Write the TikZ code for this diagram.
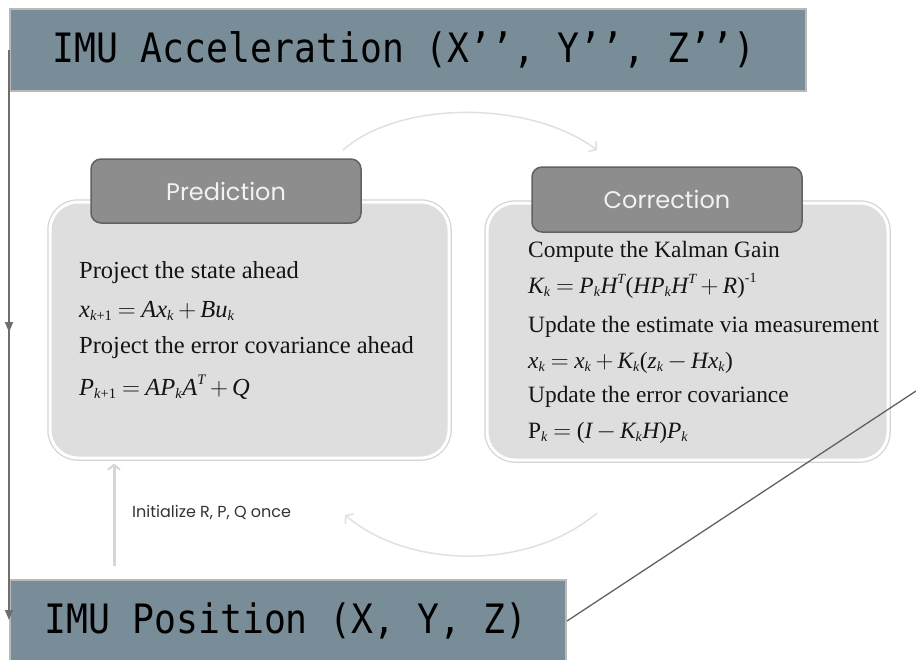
\documentclass[tikz,border=0pt]{standalone}
\usepackage{fontspec}
\usepackage{amsmath}
\setmainfont{Liberation Serif}
\newfontfamily\monofont[FakeStretch=0.9]{DejaVu Sans Mono}
\newfontfamily\gothfont{Poppins}
\usetikzlibrary{arrows.meta,decorations.markings}

% smaller indices in the formulas
\DeclareMathSizes{24.5}{24.5}{14.5}{11}
\DeclareMathSizes{23.4}{23.4}{14}{10.5}

\definecolor{slate}{HTML}{798D98}
\definecolor{slateedge}{HTML}{B9B9B9}
\definecolor{panelfill}{HTML}{DEDEDE}
\definecolor{panelring}{HTML}{D4D4D4}
\definecolor{headfill}{HTML}{8D8D8D}
\definecolor{headedge}{HTML}{616161}
\definecolor{headtext}{HTML}{F2F2F2}
\definecolor{cyclegray}{HTML}{E0E0E0}
\definecolor{initgray}{HTML}{D6D6D6}
\definecolor{flowgray}{HTML}{6E6E6E}
\definecolor{labelgray}{HTML}{333333}

% italic letters and upright symbols taken from the text font inside formulas
\newcommand\mi[1]{\text{\itshape #1}}
\newcommand\tx[1]{\text{#1}}
% tighter spacing around = and binary operators
\newcommand\eqspacing{\thickmuskip=4mu\medmuskip=3mu}

\begin{document}
\begin{tikzpicture}[x=1pt,y=-1pt,
  banner/.style={rectangle, fill=slate, draw=slateedge, line width=2pt,
    inner sep=0pt, font=\monofont\fontsize{40.5}{44}\selectfont},
  panel/.style={rectangle, rounded corners=28pt, fill=panelfill, draw=white,
    line width=3pt, preaction={draw=panelring, line width=5.5pt}, inner sep=0pt},
  tab/.style={rectangle, rounded corners=10pt, fill=headfill, draw=headedge,
    line width=1.5pt, inner sep=0pt, text=headtext,
    font=\gothfont\fontsize{24}{28}\selectfont},
  body/.style={anchor=base west, inner sep=0pt, text=black!92,
    font=\fontsize{24.5}{29}\selectfont\eqspacing},
  bodyc/.style={body, font=\fontsize{23.4}{28}\selectfont\eqspacing},
  cycle/.style={draw=cyclegray, line width=1.5pt,
    -{Straight Barb[length=5pt,width=13pt,line width=1.5pt]}},
  initarrow/.style={draw=initgray, line width=3pt,
    -{Straight Barb[length=5pt,width=12pt,line width=2pt]}},
  flowline/.style={draw=flowgray, line width=1.6pt,
    -{Triangle[length=10pt,width=8pt]},
    postaction={decorate},
    decoration={markings, mark=at position 0.495 with
      {\arrow{Triangle[length=10pt,width=8pt]}}}},
  feed/.style={draw=black!62, line width=1.3pt},
  note/.style={anchor=west, inner sep=0pt, text=labelgray,
    font=\gothfont\fontsize{16}{19}\selectfont}
]
\useasboundingbox (0,0) rectangle (916,659);

% input and output banners
\node[banner, minimum width=796pt, minimum height=82pt] (acc) at (408,50)
  {\hspace*{-8pt}IMU Acceleration (X’’, Y’’, Z’’)};
\node[banner, minimum width=556pt, minimum height=82pt] (pos) at (288,621)
  {\hspace*{-4pt}IMU Position (X, Y, Z)};

% the two filter stages
\node[panel, minimum width=399pt, minimum height=256pt] (pred) at (249.5,330) {};
\node[panel, minimum width=401pt, minimum height=257pt] (corr) at (687.5,331.5) {};
\node[tab, minimum width=270pt, minimum height=64pt] (predh) at (226,191) {Prediction};
\node[tab, minimum width=270pt, minimum height=65pt] (corrh) at (667,199.5) {Correction};

% prediction equations
\node[body] (p1) at (79,278) {Project the state ahead};
\node[body] (p2) at (79,317) {$\mi{x}_{\mi{k}\tx{+1}} = \mi{Ax}_{\mi{k}} + \mi{Bu}_{\mi{k}}$};
\node[body] (p3) at (79,353) {Project the error covariance ahead};
\node[body] (p4) at (79,395) {$\mi{P}_{\mi{k}\tx{+1}} = \mi{AP}_{\mi{k}}\mi{A}^{\mi{T}} + \mi{Q}$};

% correction equations
\node[bodyc] (c1) at (528,257) {Compute the Kalman Gain};
\node[bodyc] (c2) at (528,293) {$\mi{K}_{\mi{k}} = \mi{P}_{\mi{k}}\mi{H}^{\mi{T}}\tx{(}\mi{HP}_{\mi{k}}\mi{H}^{\mi{T}} + \mi{R}\tx{)}^{\tx{-1}}$};
\node[bodyc] (c3) at (528,332) {Update the estimate via measurement};
\node[bodyc] (c4) at (528,368) {$\mi{x}_{\mi{k}} = \mi{x}_{\mi{k}} + \mi{K}_{\mi{k}}\tx{(}\mi{z}_{\mi{k}} - \mi{Hx}_{\mi{k}}\tx{)}$};
\node[bodyc] (c5) at (528,402) {Update the error covariance};
\node[bodyc] (c6) at (528,438) {$\tx{P}_{\mi{k}} = \tx{(}\mi{I} - \mi{K}_{\mi{k}}\mi{H}\tx{)}\mi{P}_{\mi{k}}$};

% cycle between the stages
\coordinate (toparcA) at (343,150);
\coordinate (toparcB) at (597,150);
\coordinate (botarcA) at (597,513);
\coordinate (botarcB) at (345,515);
\draw[cycle] (toparcA) .. controls (400,100) and (530,100) .. (toparcB);
\draw[cycle] (botarcA) .. controls (530,570) and (410,570) .. (botarcB);

% one-time initialisation
\coordinate (initfoot) at (114,566);
\draw[initarrow, shorten >=4pt] (initfoot) -- (initfoot |- pred.south);
\node[note] (init) at (132,513) {Initialize R, P, Q once};

% data flow from acceleration to position
\coordinate (flowtop) at (9,50);
\coordinate (flowend) at (9,620);
\draw[flowline] (flowtop) -- (flowend);

\coordinate (offright) at (916,391);
\draw[feed] (pos.east) -- (offright);
\end{tikzpicture}
\end{document}
